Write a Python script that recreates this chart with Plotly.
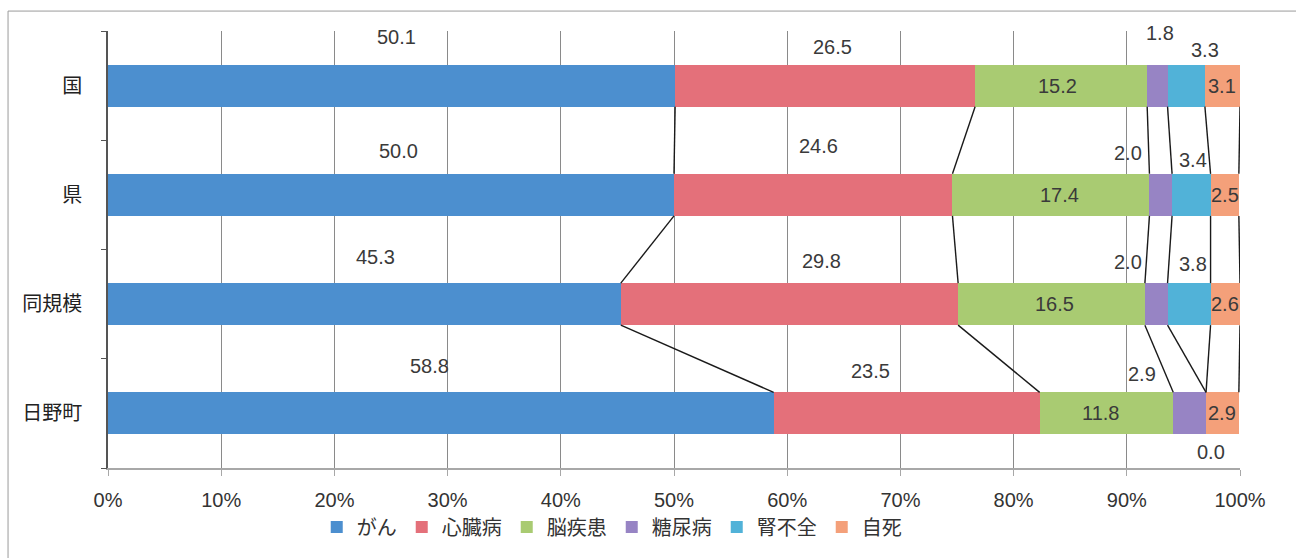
import plotly.graph_objects as go

categories = ["国", "県", "同規模", "日野町"]
series_names = ["がん", "心臓病", "脳疾患", "糖尿病", "腎不全", "自死"]
gan = [50.1, 50.0, 45.3, 58.8]
shinzo = [26.5, 24.6, 29.8, 23.5]
noshikkan = [15.2, 17.4, 16.5, 11.8]
tonyo = [1.8, 2.0, 2.0, 2.9]
jinfuzen = [3.3, 3.4, 3.8, 0.0]
jishi = [3.1, 2.5, 2.6, 2.9]
x_tick_vals = [0, 10, 20, 30, 40, 50, 60, 70, 80, 90, 100]
x_tick_text = ["0%", "10%", "20%", "30%", "40%", "50%", "60%", "70%", "80%", "90%", "100%"]

series_values = [gan, shinzo, noshikkan, tonyo, jinfuzen, jishi]
colors = ["#4C8FCF", "#E4707A", "#A9CB72", "#9784C4", "#51B2D8", "#F4A07A"]

# label pixel shifts (dx, dy) relative to segment centre / bar centre
label_shift = [
    [(5, -49), (7, -44), (11, -47), (-11, -47)],
    [(7, -39), (5, -49), (32, -43), (-36, -42)],
    [(-4, 0), (9, 0), (3, 0), (-6, 0)],
    [(3, -53), (-33, -42), (-28, -42), (-48, -39)],
    [(19, -36), (2, -35), (4, -40), (5, 39)],
    [(0, 0), (0, 0), (0, 0), (0, 0)],
]

BAR_W = 0.385
ypos = list(range(len(categories)))
FONT = "Liberation Sans, Noto Sans CJK JP, sans-serif"

fig = go.Figure()
for name, vals, col in zip(series_names, series_values, colors):
    fig.add_trace(go.Bar(
        y=ypos, x=vals, name=name, orientation="h", width=BAR_W,
        marker=dict(color=col, line=dict(width=0)), hoverinfo="skip",
    ))

# cumulative sums
cums = []
for k in range(len(categories)):
    s = 0
    row = []
    for vals in series_values:
        s += vals[k]
        row.append(s)
    cums.append(row)

# series connector lines
for i in range(len(series_names)):
    xs, ys = [], []
    for k in range(len(categories) - 1):
        xs += [cums[k][i], cums[k + 1][i], None]
        ys += [k + BAR_W / 2, k + 1 - BAR_W / 2, None]
    fig.add_trace(go.Scatter(x=xs, y=ys, mode="lines", line=dict(color="#1a1a1a", width=1.4),
                             showlegend=False, hoverinfo="skip"))

# data labels
anns = []
for i, vals in enumerate(series_values):
    for k in range(len(categories)):
        start = cums[k][i] - vals[k]
        cx = start + vals[k] / 2
        dx, dy = label_shift[i][k]
        anns.append(dict(x=cx, y=k, xref="x", yref="y", text=f"{vals[k]:.1f}",
                         showarrow=False, xshift=dx, yshift=-dy,
                         font=dict(family=FONT, size=20, color="#3a3a3a")))

fig.update_layout(
    width=1296, height=558,
    margin=dict(l=108, r=56, t=31, b=88),
    paper_bgcolor="white", plot_bgcolor="white",
    barmode="stack", bargap=0,
    font=dict(family=FONT, size=19, color="#333333"),
    annotations=anns,
    showlegend=True,
    legend=dict(orientation="h", x=0.445, xanchor="center", y=-0.135, yanchor="middle",
                font=dict(family=FONT, size=20, color="#333333"),
                itemwidth=30, traceorder="normal", tracegroupgap=0),
    xaxis=dict(range=[0, 100], tickvals=x_tick_vals, ticktext=x_tick_text,
               showgrid=True, gridcolor="#8a8a8a", gridwidth=1,
               showline=True, linecolor="#a8a8a8", linewidth=2,
               ticks="outside", ticklen=6, tickcolor="#a8a8a8",
               zeroline=False, ticklabelstandoff=7,
               tickfont=dict(family=FONT, size=20, color="#333333")),
    yaxis=dict(range=[3.5, -0.5], tickvals=ypos, ticktext=categories,
               showgrid=False, zeroline=False, showline=True, linecolor="#555555", linewidth=1.5,
               ticks="", ticklabelstandoff=20,
               tickfont=dict(family=FONT, size=20, color="#222222")),
    yaxis2=dict(range=[3.5, -0.5], overlaying="y", tickvals=[-0.5, 0.5, 1.5, 2.5, 3.5],
                ticks="outside", ticklen=6, tickcolor="#555555", showticklabels=False,
                showgrid=False, zeroline=False, showline=False, side="left"),
    shapes=[dict(type="rect", xref="paper", yref="paper", x0=-0.0883, x1=1.06, y0=-0.25, y1=1.0456,
                 line=dict(color="#9a9a9a", width=1), fillcolor="rgba(0,0,0,0)", layer="below")],
)
# dummy invisible trace to activate yaxis2 ticks
fig.add_trace(go.Scatter(x=[None], y=[None], yaxis="y2", showlegend=False, hoverinfo="skip"))

fig.write_html("out.html")
